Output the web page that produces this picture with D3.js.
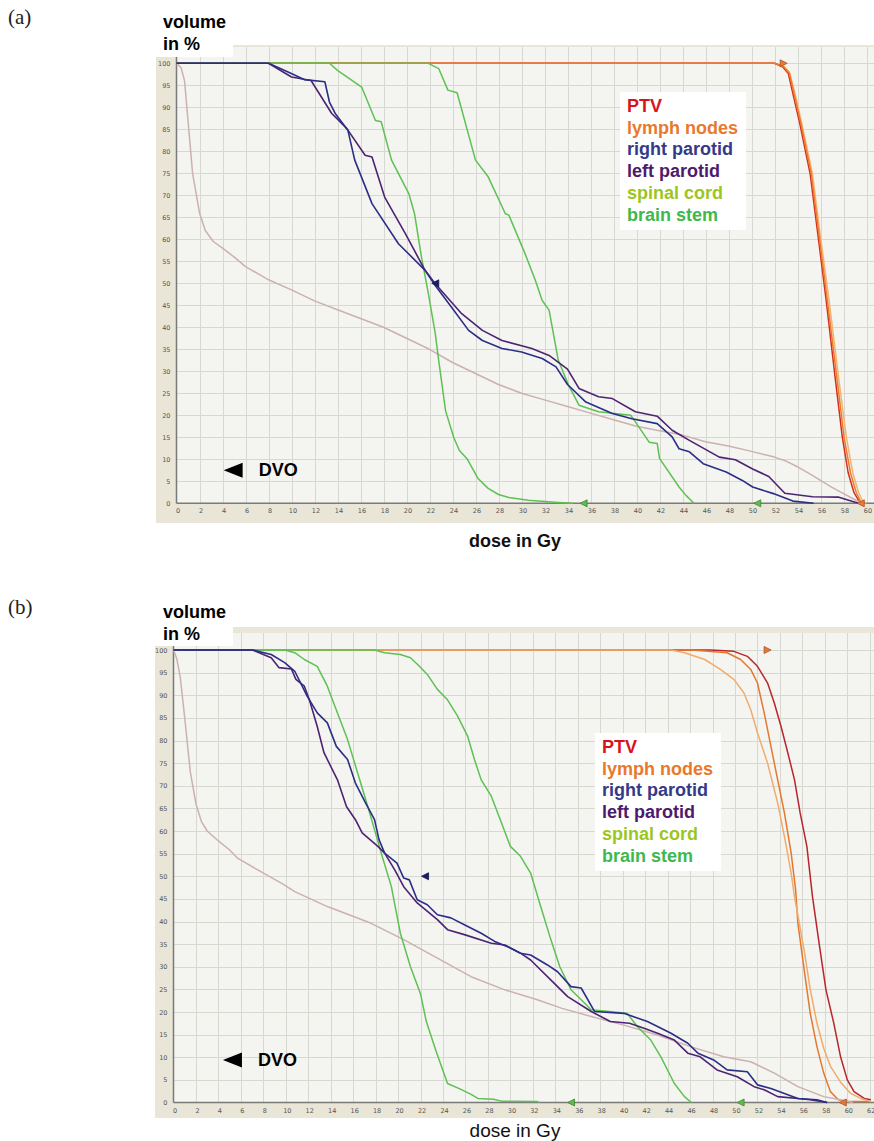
<!DOCTYPE html>
<html>
<head>
<meta charset="utf-8">
<script src="https://cdn.jsdelivr.net/npm/d3@7"></script>
<style>
  body { margin: 0; background: #fff; }
  svg { display: block; }
</style>
</head>
<body>
<svg id="chart" width="874" height="1141"></svg>
<script>
// tick labels
const xTicks = [0, 2, 4, 6, 8, 10, 12, 14, 16, 18, 20, 22, 24, 26, 28, 30, 32, 34, 36, 38, 40, 42, 44, 46, 48, 50, 52, 54, 56, 58, 60, 62]
const yTicks = [0, 5, 10, 15, 20, 25, 30, 35, 40, 45, 50, 55, 60, 65, 70, 75, 80, 85, 90, 95, 100]

const legendLabels = ['PTV', 'lymph nodes', 'right parotid', 'left parotid', 'spinal cord', 'brain stem']
const legendColors = ['#d7141e', '#e8792c', '#343a88', '#4e1a6c', '#9cc61e', '#3fb84c']

// (a) dose-volume curves, [dose Gy, volume %]
const aBody = [[0, 100], [0.4, 99], [0.7, 96], [1.4, 75], [2, 66], [2.5, 62], [3.2, 59.5], [4, 58], [5, 56], [6, 53.8], [8, 50.8], [10, 48.5], [12, 46], [14, 44], [16, 42], [18, 40], [20, 37.5], [22, 35], [24, 32], [26, 29.5], [28, 27], [30, 25], [32, 23.5], [34, 22], [36, 20.5], [38, 19], [40, 17.5], [42, 16.5], [44, 15.5], [46, 14], [48, 13], [50, 11.8], [52, 10.5], [53, 9.6], [54, 8.3], [55, 6.8], [56, 5.2], [57, 3.6], [58, 2.2], [59, 0.8], [59.6, 0]]
const aRightParotid = [[0, 100], [8, 100], [9.7, 98], [11.1, 96.3], [12.9, 95.8], [13.3, 91.2], [13.8, 88.6], [14.9, 84.8], [15.5, 78], [17, 68.1], [19.3, 59], [21.6, 53], [22.5, 49.5], [23.9, 44.6], [25.4, 39.3], [26.6, 37], [28.3, 35.2], [30, 34.4], [31.8, 32.9], [33, 31], [34, 27], [35.6, 23], [37.9, 20.4], [39.6, 19.2], [41.8, 18.1], [43.1, 15.1], [43.7, 12.4], [44.6, 11.7], [45.8, 9], [47.8, 7.1], [49.2, 5.2], [50.1, 3.7], [51.9, 2.2], [53.6, 0.5], [55.4, 0]]
const aLeftParotid = [[0, 100], [8, 100], [10, 96.9], [11.7, 96.1], [13.5, 88.6], [14.8, 85.2], [16.4, 79.1], [17, 78.7], [18.1, 69.6], [19.9, 61.3], [21.6, 53], [22.5, 49.9], [24.8, 43.1], [26.6, 39.3], [28.3, 37], [30.9, 35.2], [32.4, 33.6], [34, 30.5], [35, 26.1], [36.7, 24.2], [37.9, 23.8], [39.9, 20.8], [41.8, 19.8], [43.1, 16.6], [44.6, 14.3], [47.2, 10.5], [48.6, 9.9], [50.1, 7.8], [51.5, 6.1], [52.9, 2.3], [55.3, 1.5], [57.6, 1.4], [59.3, 0]]
const aSpinalCord = [[0, 100], [13.3, 100], [14, 98.4], [16.1, 94.6], [17.3, 87], [17.8, 86.7], [18.7, 78], [20.2, 70.4], [20.7, 65.8], [21.3, 56], [21.9, 47.7], [22.5, 38.6], [22.8, 32.5], [23.4, 21], [24.1, 15], [24.6, 12], [25.3, 10], [26.2, 5.7], [27.1, 3.4], [28, 2], [28.9, 1.3], [30.6, 0.7], [33.2, 0.2], [34.5, 0]]
const aBrainStem = [[0, 100], [21.9, 100], [22.8, 98.8], [23.6, 93.9], [24.4, 93.3], [26, 78], [27.1, 74.2], [28.6, 65.8], [28.9, 65.5], [30.3, 56.8], [31.2, 50.7], [31.8, 46.1], [32.4, 43.9], [33.2, 32.5], [34.1, 26.8], [35, 22.3], [36.7, 20.8], [39.5, 20], [39.9, 18.5], [41.1, 13.9], [41.8, 13.6], [42, 10.2], [43.7, 3.7], [44.3, 1.8], [45, 0]]
const aPTV = [[0, 100], [52, 100], [52.7, 99.2], [53.2, 97.7], [53.6, 93.1], [54.2, 86.3], [55.1, 74.9], [55.8, 60.5], [56.5, 46], [57.3, 28], [57.9, 15], [58.4, 7], [58.9, 2.5], [59.4, 0.3], [59.8, 0]]
const aLymphNodes = [[0, 100], [52, 100], [52.8, 99.2], [53.3, 97.7], [53.7, 93.1], [54.3, 86.3], [55.2, 74.9], [55.9, 60.5], [56.6, 46], [57.45, 28], [58.05, 15], [58.6, 7], [59.1, 2.5], [59.5, 0.3], [59.9, 0]]
const aBoost = [[0, 100], [52, 100], [52.8, 99.3], [53.3, 98], [53.8, 93], [54.4, 86], [55.3, 74.9], [56, 60.5], [56.75, 46], [57.6, 28], [58.25, 15], [58.8, 7], [59.3, 2.5], [59.7, 0.3], [60, 0]]

// (b) dose-volume curves
const bBody = [[0, 100], [0.3, 98], [0.6, 94], [1, 85], [1.5, 73], [2, 66], [2.5, 62], [3, 60], [4, 57.8], [5, 55.8], [5.7, 54], [7.5, 51.4], [9.6, 48.5], [10.8, 46.6], [13.7, 43.3], [17.6, 39.6], [20.5, 36], [23.5, 31.9], [26.5, 27.8], [29.5, 24.9], [32.4, 22.7], [34.6, 20.8], [37.2, 19], [40.1, 17.1], [43.1, 14.9], [46.1, 12.3], [49, 10.1], [51.4, 9], [53.5, 6.5], [55.6, 3.5], [57.9, 1.3], [59.4, 0.6], [60.5, 0]]
const bRightParotid = [[0, 100], [7.05, 100], [8.7, 99], [9.9, 97.2], [10.8, 95.3], [11.9, 89.8], [12.8, 86.1], [13.7, 83.9], [14.5, 78.7], [15.5, 75.8], [16.2, 70.6], [17.1, 66.2], [17.9, 62.5], [18.3, 58.1], [18.8, 55.1], [19.9, 52.9], [20.5, 49.6], [21, 49.2], [21.7, 44.8], [22.6, 43.7], [23.5, 41.5], [24.7, 40.8], [25.9, 39.3], [27.4, 37.4], [28.6, 35.6], [29.7, 34.5], [30.9, 33], [31.8, 32.6], [33.3, 30.4], [34.2, 28.9], [35.4, 25.6], [36.3, 25.3], [37.5, 20.1], [40.1, 19.7], [42.2, 17.9], [43.1, 16.8], [44.3, 15.3], [45.8, 13.1], [46.7, 10.9], [48.1, 9.4], [49.3, 7.2], [51.1, 6.8], [52, 3.9], [53.2, 3.1], [54.4, 2], [55.6, 0.9], [57.3, 0.6], [58.2, 0]]
const bLeftParotid = [[0, 100], [7.05, 100], [8.7, 98.3], [9.4, 96.1], [10.5, 95.8], [10.9, 93.5], [11.65, 92], [12.1, 89], [12.8, 83.1], [13.4, 77.3], [14.6, 71.3], [15.4, 65.4], [16.2, 62.5], [16.8, 59.6], [18.2, 56.6], [18.8, 55.1], [19.7, 51.4], [20.5, 47.7], [21.7, 44.1], [23.5, 40.4], [24.4, 38.2], [25.9, 37.1], [28.3, 35.2], [29.5, 34.8], [30.9, 33], [31.8, 31.5], [34.2, 25.6], [35.1, 23.4], [37.2, 20.1], [38.9, 17.9], [40.6, 17.5], [41.9, 16.4], [43.1, 15.3], [44.6, 13.8], [45.8, 10.9], [46.9, 10.1], [48.4, 7.2], [50.2, 5.7], [51.7, 3.5], [52.6, 2.8], [53.8, 1.3], [55.6, 0.9], [56.7, 0.6], [58.2, 0]]
const bSpinalCord = [[0, 100], [9.9, 100], [10.8, 99.4], [11.65, 97.9], [12.8, 96.4], [13.7, 92], [14.6, 86.1], [15.5, 80.2], [16.4, 72.8], [17.3, 65.4], [17.9, 60.3], [18.5, 55.1], [19.4, 47.7], [20.2, 37.4], [21.1, 30], [22, 24], [22.5, 18], [23.4, 11.2], [24.4, 4.2], [25.5, 3], [26.5, 1.8], [27.1, 0.9], [28.5, 0.7], [29.2, 0.3], [32.4, 0.2], [32.6, 0]]
const bBrainStem = [[0, 100], [17.9, 100], [18.8, 99.4], [20.2, 99], [21.1, 98.3], [21.9, 96.4], [22.6, 94.6], [23.5, 91.3], [24.4, 89], [25.3, 85.4], [26.2, 80.9], [26.8, 75.8], [27.4, 71.3], [28.3, 67.7], [29.1, 62.5], [30, 56.6], [30.9, 54.4], [31.8, 50.7], [32.7, 43.3], [33.6, 36], [34.4, 30], [35.4, 24.9], [37.2, 20.5], [40.4, 19.7], [41.3, 16.8], [42.5, 13.8], [43.4, 10.1], [44.6, 4.2], [45.5, 1.3], [46.1, 0]]
const bPTV = [[0, 100], [47.8, 100], [49.9, 99.7], [51.1, 98.6], [52, 96.4], [52.9, 92.7], [53.5, 88.3], [54.1, 83.1], [54.7, 77.3], [55.3, 71.3], [55.8, 64], [56.4, 56.6], [56.9, 45.5], [57.5, 35], [58.1, 24.9], [58.8, 17.5], [59.4, 10.1], [60, 5], [60.6, 2.4], [61.5, 0.9], [62.1, 0.6]]
const bLymphNodes = [[0, 100], [46.1, 100], [49.3, 99.4], [50.5, 97.9], [51.4, 95.7], [52, 92.7], [52.6, 86.1], [53.2, 78.7], [53.8, 71.3], [54.4, 64], [55, 55.1], [55.4, 47], [55.6, 39.6], [56.2, 28.6], [56.7, 19.7], [57.3, 12.3], [57.9, 6.5], [58.5, 2.4], [59.2, 0.6], [60, 0.2], [62.1, 0.2]]
const bBoost = [[0, 100], [44.3, 100], [45.5, 99.4], [47.3, 97.9], [48.7, 95.7], [49.9, 93.5], [50.8, 90.5], [51.4, 86.8], [52, 81.7], [52.9, 75], [53.8, 66.2], [54.4, 58.8], [55, 50.7], [55.3, 45.5], [55.7, 40], [56.2, 33], [56.7, 25], [57.3, 17.5], [57.9, 12], [58.5, 8], [59.4, 4.5], [60.3, 2], [61.2, 0.9], [62.1, 0.2]]

// constraint markers [dose, volume, direction]
const aMarkers = [[52.8, 100, 'right', '#e8783a'], [22.5, 50, 'left', '#1c1c6e'], [35.4, 0, 'left', '#5cbc4c'], [50.5, 0, 'left', '#5cbc4c'], [59.5, 0, 'left', '#e8783a']]
const bMarkers = [[52.9, 100, 'right', '#e8783a'], [22.4, 50, 'left', '#1c1c6e'], [35.4, 0, 'left', '#5cbc4c'], [50.5, 0, 'left', '#5cbc4c'], [59.6, 0, 'left', '#e8783a']]
const aDvo = [4.1, 7.5]
const bDvo = [4.4, 9.4]

const svg = d3.select('#chart')

function drawPanel (p) {
  const x = d3.scaleLinear().domain([0, 60]).range([p.x0, p.x60])
  const y = d3.scaleLinear().domain([0, 100]).range([p.y0, p.y100])
  const g = svg.append('g')
  const right = 874

  // frame and plot background
  g.append('rect')
    .attr('x', p.frameLeft).attr('y', p.frameTop)
    .attr('width', right - p.frameLeft).attr('height', p.frameBottom - p.frameTop)
    .attr('fill', '#e9e6d7')
  g.append('rect')
    .attr('x', p.x0).attr('y', p.plotTop)
    .attr('width', right - p.x0).attr('height', p.y0 - p.plotTop)
    .attr('fill', '#f4f4f0')

  // grid
  const vx = xTicks.filter(d => d > 0 && x(d) <= right)
  g.selectAll('.vg').data(vx).join('line')
    .attr('x1', d => Math.round(x(d)) + 0.5).attr('x2', d => Math.round(x(d)) + 0.5)
    .attr('y1', p.plotTop).attr('y2', p.y0)
    .attr('stroke', '#d8d8d2').attr('stroke-width', 1)
  g.selectAll('.hg').data(yTicks.filter(d => d > 0)).join('line')
    .attr('x1', p.x0).attr('x2', right)
    .attr('y1', d => Math.round(y(d)) + 0.5).attr('y2', d => Math.round(y(d)) + 0.5)
    .attr('stroke', '#d8d8d2').attr('stroke-width', 1)

  // axes
  g.append('line').attr('x1', p.x0).attr('x2', p.x0).attr('y1', p.plotTop).attr('y2', p.y0)
    .attr('stroke', '#7a7a7a').attr('stroke-width', 1.5)
  g.append('line').attr('x1', p.x0).attr('x2', right).attr('y1', p.y0).attr('y2', p.y0)
    .attr('stroke', '#7a7a7a').attr('stroke-width', 1.5)

  g.selectAll('.xl').data(xTicks.filter(d => x(d) <= right + 4)).join('text')
    .attr('x', d => x(d) + 1.5).attr('y', p.y0 + 10)
    .attr('text-anchor', 'middle')
    .attr('font-family', 'DejaVu Sans, Verdana, sans-serif').attr('font-size', 6.5)
    .attr('fill', '#555').text(d => d)
  g.selectAll('.yl').data(yTicks).join('text')
    .attr('x', p.x0 - 6).attr('y', d => y(d) + 2.5)
    .attr('text-anchor', 'end')
    .attr('font-family', 'DejaVu Sans, Verdana, sans-serif').attr('font-size', 6.5)
    .attr('fill', '#555').text(d => d)

  // curves
  const line = d3.line().x(d => x(d[0])).y(d => y(d[1]))
  p.series.forEach(s => {
    g.append('path').datum(s.data)
      .attr('fill', 'none').attr('stroke', s.color).attr('stroke-width', s.width || 1.5)
      .attr('stroke-linejoin', 'round')
      .attr('d', line)
  })

  // markers
  p.markers.forEach(m => {
    const cx = x(m[0])
    const cy = y(m[1])
    const path = m[2] === 'left'
      ? `M${cx - 3.5},${cy} L${cx + 3.5},${cy - 3.5} L${cx + 3.5},${cy + 3.5} Z`
      : `M${cx + 3.5},${cy} L${cx - 3.5},${cy - 3.5} L${cx - 3.5},${cy + 3.5} Z`
    g.append('path').attr('d', path)
      .attr('fill', m[3]).attr('stroke', d3.color(m[3]).darker(1)).attr('stroke-width', 0.8)
  })

  // DVO annotation
  const tx = x(p.dvo[0])
  const ty = y(p.dvo[1])
  g.append('path')
    .attr('d', `M${tx},${ty} L${tx + 19},${ty - 7.5} L${tx + 19},${ty + 7.5} Z`)
    .attr('fill', '#000')
  g.append('text').attr('x', tx + 35).attr('y', ty + 6)
    .attr('font-family', 'Liberation Sans, Arial, sans-serif').attr('font-weight', 'bold')
    .attr('font-size', 18).attr('fill', '#000').text('DVO')

  // legend
  g.append('rect').attr('x', p.legend[0]).attr('y', p.legend[1])
    .attr('width', 126).attr('height', 138).attr('fill', '#fff')
  g.selectAll('.lg').data(legendLabels).join('text')
    .attr('x', p.legend[0] + 7).attr('y', (d, i) => p.legend[1] + 20 + i * 21.7)
    .attr('font-family', 'Liberation Sans, Arial, sans-serif').attr('font-weight', 'bold')
    .attr('font-size', 18).attr('fill', (d, i) => legendColors[i]).text(d => d)

  // y axis title
  g.append('rect').attr('x', 150).attr('y', p.frameTop - 45)
    .attr('width', 83).attr('height', p.boxBottom - p.frameTop + 45).attr('fill', '#fff')
  g.append('text').attr('x', 163).attr('y', p.titleY)
    .attr('font-family', 'Liberation Sans, Arial, sans-serif').attr('font-weight', 'bold')
    .attr('font-size', 18).attr('fill', '#000').text('volume')
  g.append('text').attr('x', 163).attr('y', p.titleY + 22)
    .attr('font-family', 'Liberation Sans, Arial, sans-serif').attr('font-weight', 'bold')
    .attr('font-size', 18).attr('fill', '#000').text('in %')

  // x axis title
  g.append('text').attr('x', 515).attr('y', p.xTitleY)
    .attr('text-anchor', 'middle')
    .attr('font-family', 'Liberation Sans, Arial, sans-serif').attr('font-weight', p.xTitleWeight)
    .attr('font-size', p.xTitleSize).attr('fill', '#111').text('dose in Gy')

  // panel letter
  g.append('text').attr('x', 8).attr('y', p.letterY)
    .attr('font-family', 'Liberation Serif, Times New Roman, serif')
    .attr('font-size', 21).attr('fill', '#222').text(p.letter)
}

drawPanel({
  letter: '(a)', letterY: 24,
  x0: 176.5, x60: 866.5, y0: 503.3, y100: 63.3,
  frameLeft: 156, frameTop: 45, frameBottom: 523, plotTop: 47, boxBottom: 57,
  titleY: 28, xTitleY: 547, xTitleWeight: 'bold', xTitleSize: 18,
  legend: [620, 92], dvo: aDvo, markers: aMarkers,
  series: [
    { data: aBoost, color: '#f3b46e' },
    { data: aPTV, color: '#d2301e' },
    { data: aLymphNodes, color: '#ee7a2e' },
    { data: aBody, color: '#cbb1b0' },
    { data: aSpinalCord, color: '#5ec154' },
    { data: aBrainStem, color: '#5ec154' },
    { data: aLeftParotid, color: '#4c2472', width: 1.6 },
    { data: aRightParotid, color: '#2b2e86', width: 1.6 }
  ]
})

drawPanel({
  letter: '(b)', letterY: 614,
  x0: 173.5, x60: 847.3, y0: 1102.5, y100: 650,
  frameLeft: 155, frameTop: 627, frameBottom: 1118, plotTop: 633, boxBottom: 646,
  titleY: 618, xTitleY: 1137, xTitleWeight: 'normal', xTitleSize: 19,
  legend: [595, 733], dvo: bDvo, markers: bMarkers,
  series: [
    { data: bPTV, color: '#b8262c' },
    { data: bLymphNodes, color: '#e4782e' },
    { data: bBoost, color: '#efac6e' },
    { data: bBody, color: '#cbb1b0' },
    { data: bSpinalCord, color: '#5ec154' },
    { data: bBrainStem, color: '#5ec154' },
    { data: bLeftParotid, color: '#4c2472', width: 1.6 },
    { data: bRightParotid, color: '#2b2e86', width: 1.6 }
  ]
})
</script>
</body>
</html>
